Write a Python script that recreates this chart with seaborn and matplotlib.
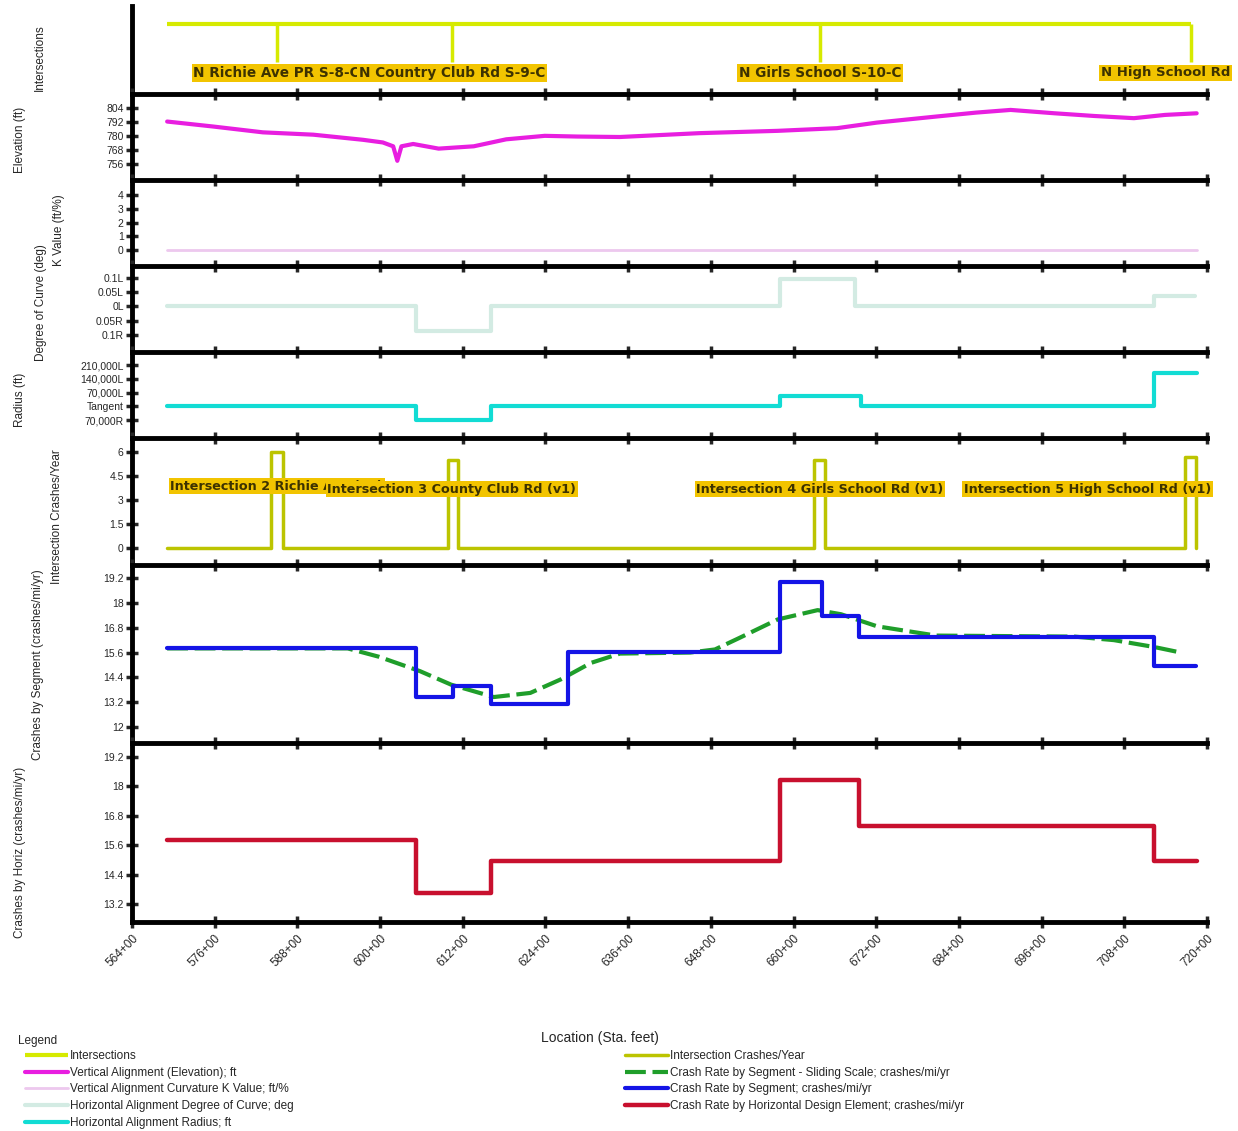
import numpy as np
import matplotlib
matplotlib.use("Agg")
import matplotlib.pyplot as plt
import seaborn as sns

# stations in hundreds of feet (564 -> "564+00")
x_ticks = np.arange(564, 721, 12)
x_labels = [f"{t}+00" for t in x_ticks]

route_start = 569.1
int_sta = [585.0, 610.4, 663.8, 717.7]
int_names = ["N Richie Ave PR S-8-C", "N Country Club Rd S-9-C",
             "N Girls School S-10-C", "N High School Rd"]
crash_names = ["Intersection 2 Richie Ave (v1)", "Intersection 3 County Club Rd (v1)",
               "Intersection 4 Girls School Rd (v1)", "Intersection 5 High School Rd (v1)"]

# vertical alignment (elevation, ft)
elev_sta = [569.1, 575.8, 583.0, 590.3, 597.5, 600.4, 601.9, 602.5, 603.1, 604.8,
            608.5, 613.6, 618.3, 623.9, 628.6, 634.8, 646.3, 657.7, 666.3, 672.1,
            680.7, 686.5, 691.5, 697.9, 703.6, 709.4, 713.9, 718.5]
elev_ft = [792.3, 788.0, 783.0, 781.0, 776.6, 774.3, 771.0, 758.5, 771.0, 773.0,
           769.0, 771.0, 777.0, 780.0, 779.4, 779.0, 782.3, 784.3, 786.6, 791.4,
           796.6, 800.0, 802.3, 799.4, 797.1, 795.2, 798.0, 799.4]

# curvature K value
kval_sta = [569.1, 718.5]
kval = [0, 0]

# degree of curve (L positive, R negative)
deg_sta = [569.1, 605.2, 616.1, 658.0, 668.9, 712.3, 718.2]
deg_val = [0, -0.085, 0, 0.095, 0, 0.035, 0.035]
deg_ticks = [-0.1, -0.05, 0, 0.05, 0.1]
deg_labels = ["0.1R", "0.05R", "0L", "0.05L", "0.1L"]

# radius (plotted on an index scale)
rad_sta = [569.1, 605.2, 616.1, 658.0, 669.8, 712.3, 718.5]
rad_val = [0, -0.98, 0, 0.73, 0, 2.4, 2.4]
rad_ticks = [-1, 0, 1, 2, 3]
rad_labels = ["70,000R", "Tangent", "70,000L", "140,000L", "210,000L"]

# intersection crashes / year
icr_sta = [569.1, 584.2, 585.9, 609.9, 611.3, 663.0, 664.6, 716.8, 718.4]
icr_val = [0, 6.0, 0, 5.5, 0, 5.5, 0, 5.7, 0]

# crash rate by segment - sliding scale
slide_sta = [569.1, 595.3, 599.8, 605.8, 610.3, 616.5, 621.8, 626.2, 630.6, 634.8,
             645.0, 648.6, 652.1, 657.7, 663.5, 666.9, 672.1, 677.8, 680.7, 700.8,
             706.5, 712.3, 716.2]
slide_val = [15.8, 15.8, 15.4, 14.7, 14.05, 13.45, 13.65, 14.3, 15.1, 15.55,
             15.6, 15.75, 16.3, 17.2, 17.65, 17.45, 16.87, 16.57, 16.42, 16.37,
             16.2, 15.87, 15.6]

# crash rate by segment
seg_sta = [569.1, 605.2, 610.6, 616.1, 627.3, 658.0, 664.1, 669.5, 712.3, 718.4]
seg_val = [15.8, 13.45, 14.0, 13.1, 15.65, 19.0, 17.35, 16.37, 14.95, 14.95]

# crash rate by horizontal design element
hor_sta = [569.1, 605.2, 616.1, 658.0, 669.5, 712.3, 718.6]
hor_val = [15.8, 13.65, 14.95, 18.28, 16.4, 14.95, 14.95]

c_int = "#d6ea00"
c_elev = "#e81ee0"
c_k = "#edc8ee"
c_deg = "#d3ebe3"
c_rad = "#12dcd4"
c_icr = "#bcc400"
c_slide = "#1f9e2a"
c_seg = "#1414e6"
c_hor = "#c8102e"

sns.set_style("white")
plt.rcParams["font.family"] = ["Liberation Sans", "DejaVu Sans"]
narrow = ["Liberation Sans Narrow", "Liberation Sans", "DejaVu Sans"]
tag = dict(fontweight="bold", color="#3d3200", family="DejaVu Sans",
           bbox=dict(boxstyle="square,pad=0.12", fc="#f2c400", ec="none"))

W, H = 1238, 1131
fig = plt.figure(figsize=(W / 100, H / 100), dpi=100)
bounds = [6, 94, 180, 266, 352, 438, 565, 743, 922]
x0, x1 = 132, 1207
axes = [fig.add_axes([x0 / W, 1 - b / H, (x1 - x0) / W, (b - t) / H])
        for t, b in zip(bounds[:-1], bounds[1:])]
ax_top, ax_el, ax_k, ax_deg, ax_rad, ax_icr, ax_seg, ax_hor = axes

for i, ax in enumerate(axes):
    ax.set_xlim(564, 720)
    ax.set_facecolor("none")
    for s in ax.spines.values():
        s.set_linewidth(3.5)
        s.set_color("black")
    ax.spines["right"].set_visible(False)
    ax.spines["bottom"].set_visible(ax is ax_hor)
    ax.spines["top"].set_visible(i > 0)
    ax.set_xticks(x_ticks)
    ax.tick_params(axis="x", direction="inout", length=8, width=2.5,
                   top=i > 0, bottom=ax is ax_hor, labelbottom=ax is ax_hor,
                   labeltop=False)
    ax.tick_params(axis="y", direction="inout", length=8, width=2.5,
                   left=True, labelsize=7.5, pad=2)

# intersections
ax_top.hlines(0.8, route_start, int_sta[-1], color=c_int, lw=3, label="Intersections")
ax_top.vlines(int_sta, 0.36, 0.8, color=c_int, lw=2.5)
for k, (s, n) in enumerate(zip(int_sta, int_names)):
    last = k == len(int_sta) - 1
    ax_top.text(s - 13.1 if last else s, 0.24, n, ha="left" if last else "center",
                va="center", fontsize=9.5 if last else 9.8, **tag)
ax_top.set_ylim(0, 1)
ax_top.set_yticks([])

sns.lineplot(x=elev_sta, y=elev_ft, ax=ax_el, color=c_elev, lw=3, estimator=None,
             sort=False, label="Vertical Alignment (Elevation); ft")
ax_el.set_ylim(742, 816)
ax_el.set_yticks([756, 768, 780, 792, 804])

sns.lineplot(x=kval_sta, y=kval, ax=ax_k, color=c_k, lw=2, estimator=None,
             label="Vertical Alignment Curvature K Value; ft/%")
ax_k.set_ylim(-1.16, 5.1)
ax_k.set_yticks([0, 1, 2, 3, 4])

sns.lineplot(x=deg_sta, y=deg_val, ax=ax_deg, color=c_deg, lw=3, estimator=None,
             drawstyle="steps-post", label="Horizontal Alignment Degree of Curve; deg")
ax_deg.set_ylim(-0.16, 0.142)
ax_deg.set_yticks(deg_ticks)
ax_deg.set_yticklabels(deg_labels)

sns.lineplot(x=rad_sta, y=rad_val, ax=ax_rad, color=c_rad, lw=3, estimator=None,
             drawstyle="steps-post", label="Horizontal Alignment Radius; ft")
ax_rad.set_ylim(-2.3, 3.95)
ax_rad.set_yticks(rad_ticks)
ax_rad.set_yticklabels(rad_labels)

sns.lineplot(x=icr_sta, y=icr_val, ax=ax_icr, color=c_icr, lw=2.5, estimator=None,
             drawstyle="steps-post", label="Intersection Crashes/Year")
for k, (s, n) in enumerate(zip(int_sta, crash_names)):
    last = k == len(int_sta) - 1
    ax_icr.text(720.6 if last else s, 3.85 if k == 0 else 3.68, n,
                ha="right" if last else "center", va="center", fontsize=9.2,
                zorder=5 + k, **tag)
ax_icr.set_ylim(-1.06, 6.875)
ax_icr.set_yticks([0, 1.5, 3, 4.5, 6])
ax_icr.set_yticklabels(["0", "1.5", "3", "4.5", "6"])

sns.lineplot(x=slide_sta, y=slide_val, ax=ax_seg, color=c_slide, lw=3, estimator=None,
             sort=False, linestyle=(0, (5, 1.6)),
             label="Crash Rate by Segment - Sliding Scale; crashes/mi/yr")
sns.lineplot(x=seg_sta, y=seg_val, ax=ax_seg, color=c_seg, lw=3, estimator=None,
             drawstyle="steps-post", label="Crash Rate by Segment; crashes/mi/yr")
ax_seg.set_ylim(11.23, 19.83)
ax_seg.set_yticks([12, 13.2, 14.4, 15.6, 16.8, 18, 19.2])
ax_seg.set_yticklabels(["12", "13.2", "14.4", "15.6", "16.8", "18", "19.2"])

sns.lineplot(x=hor_sta, y=hor_val, ax=ax_hor, color=c_hor, lw=3.2, estimator=None,
             drawstyle="steps-post",
             label="Crash Rate by Horizontal Design Element; crashes/mi/yr")
ax_hor.set_ylim(12.47, 19.77)
ax_hor.set_yticks([13.2, 14.4, 15.6, 16.8, 18, 19.2])
ax_hor.set_yticklabels(["13.2", "14.4", "15.6", "16.8", "18", "19.2"])
ax_hor.set_xticklabels(x_labels, rotation=45, ha="right", va="top",
                       rotation_mode="anchor", family=narrow, fontsize=8.5)

for ax in axes:
    if ax.get_legend() is not None:
        ax.get_legend().remove()
    for t in ax.get_yticklabels():
        t.set_family(narrow)

# y labels (staggered like the original)
ylabels = [(ax_top, "Intersections", 40, 0.41), (ax_el, "Elevation (ft)", 20, 0.47),
           (ax_k, "K Value (ft/%)", 59, 0.42), (ax_deg, "Degree of Curve (deg)", 41, 0.58),
           (ax_rad, "Radius (ft)", 20, 0.44), (ax_icr, "Intersection Crashes/Year", 57, 0.38),
           (ax_seg, "Crashes by Segment (crashes/mi/yr)", 38, 0.44),
           (ax_hor, "Crashes by Horiz (crashes/mi/yr)", 20, 0.39)]
for ax, txt, px, fy in ylabels:
    ax.set_ylabel(txt, fontsize=8.5, va="center")
    ax.yaxis.set_label_coords((px - x0) / (x1 - x0), fy)

ax_hor.set_xlabel("Location (Sta. feet)", fontsize=10, va="center")
ax_hor.xaxis.set_label_coords((600 - x0) / (x1 - x0), -(1038 - 922) / (922 - 743))

# legend
fig.text(18 / W, 1 - 1041 / H, "Legend", fontsize=8.5, family=narrow, va="center")
h1 = [ax_top.collections[0], ax_el.lines[0], ax_k.lines[0], ax_deg.lines[0], ax_rad.lines[0]]
h2 = [ax_icr.lines[0], ax_seg.lines[0], ax_seg.lines[1], ax_hor.lines[0]]
for hs, xl in [(h1, 25), (h2, 625)]:
    fig.legend(handles=hs, labels=[h.get_label() for h in hs], loc="upper left",
               bbox_to_anchor=(xl / W, 1 - 1050 / H), frameon=False,
               prop=dict(family=narrow, size=8.5), handlelength=3.6,
               handletextpad=0.2, labelspacing=0.4, borderpad=0, borderaxespad=0)

fig.savefig("out.png", dpi=100)
